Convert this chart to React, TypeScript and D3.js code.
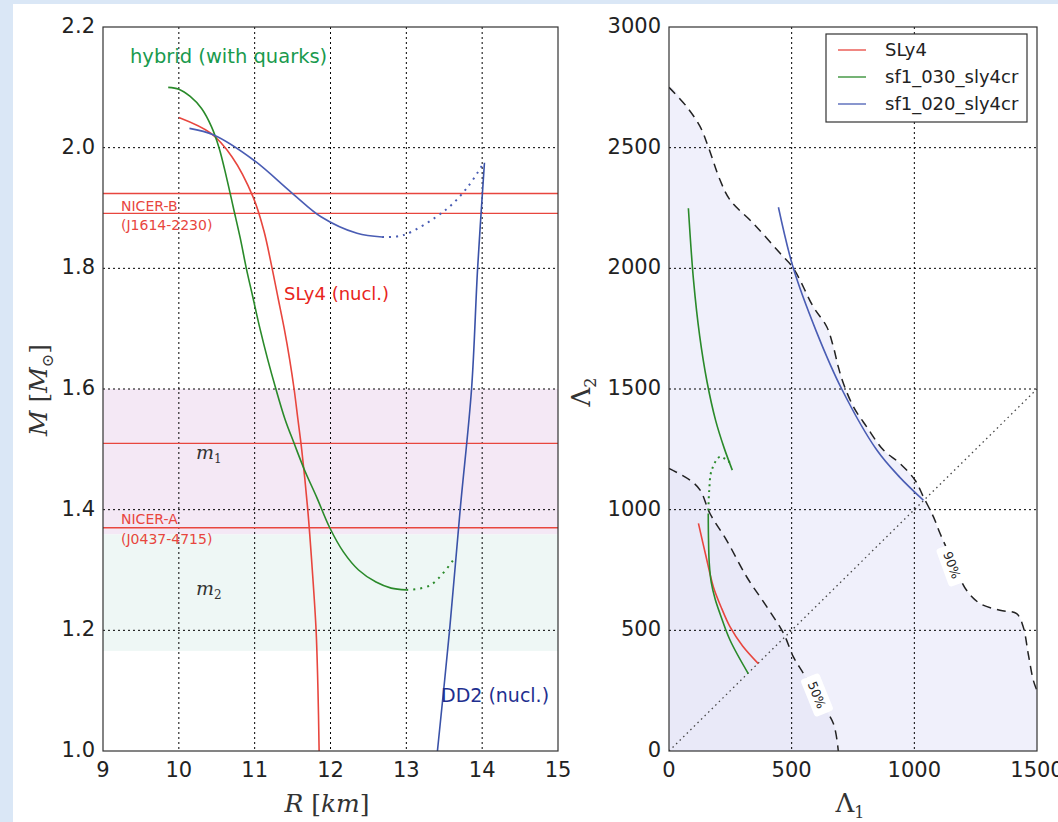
import React from "react";
import * as d3 from "d3";

// ---- left panel: mass-radius curves, [R km, M Msun]
const sly4MR = [[10.0, 2.05], [10.42, 2.024], [10.7, 1.985], [10.98, 1.918], [11.12, 1.863], [11.23, 1.8], [11.31, 1.75], [11.39, 1.7], [11.46, 1.65], [11.52, 1.6], [11.57, 1.55], [11.62, 1.5], [11.7, 1.4], [11.76, 1.3], [11.81, 1.2], [11.835, 1.1], [11.85, 1.0]];
const hybridMR = [[9.86, 2.1], [10.0, 2.097], [10.15, 2.085], [10.3, 2.065], [10.43, 2.035], [10.53, 2.0], [10.63, 1.95], [10.72, 1.9], [10.81, 1.85], [10.89, 1.8], [10.98, 1.75], [11.07, 1.7], [11.17, 1.65], [11.28, 1.6], [11.4, 1.55], [11.52, 1.51], [11.66, 1.465], [11.82, 1.42], [11.99, 1.37], [12.17, 1.33], [12.37, 1.3], [12.6, 1.28], [12.8, 1.27], [13.0, 1.267]];
const hybridMRdots = [[13.0, 1.267], [13.32, 1.275], [13.65, 1.322]];
const sf020MR = [[10.14, 2.032], [10.46, 2.021], [10.98, 1.98], [11.5, 1.924], [11.88, 1.885], [12.35, 1.858], [12.68, 1.852]];
const sf020MRdots = [[12.68, 1.852], [12.96, 1.855], [13.52, 1.897], [13.81, 1.935], [14.02, 1.975]];
const dd2MR = [[14.03, 1.975], [13.94, 1.8], [13.86, 1.6], [13.71, 1.4], [13.57, 1.2], [13.41, 1.0]];
const nicerLines = [1.924, 1.891, 1.51, 1.37];
const m1Band = [1.359, 1.6];
const m2Band = [1.166, 1.359];
const rTicks = [9, 10, 11, 12, 13, 14, 15];
const mTicks = [1.0, 1.2, 1.4, 1.6, 1.8, 2.0, 2.2];

// ---- right panel: tidal deformabilities [Lambda1, Lambda2]
const sly4LL = [[120, 943], [150, 810], [181, 680], [215, 590], [249, 514], [300, 435], [364, 362]];
const sf030Upper = [[79, 2249], [100, 1950], [125, 1720], [155, 1530], [190, 1370], [225, 1255], [258, 1164]];
const sf030Dots = [[248, 1195], [208, 1219], [174, 1164], [164, 1081], [160, 984]];
const sf030Lower = [[160, 984], [161, 880], [164, 780], [172, 700], [188, 630], [208, 569], [249, 459], [323, 321]];
const sf020LL = [[446, 2253], [507, 2000], [600, 1740], [704, 1500], [847, 1247], [940, 1135], [1037, 1039]];
const cont90 = [[0, 2750], [72, 2670], [127, 2587], [160, 2504], [208, 2366], [249, 2283], [344, 2186], [453, 2062], [507, 2000], [588, 1841], [643, 1758], [670, 1675], [690, 1592], [711, 1523], [752, 1426], [806, 1343], [874, 1247], [942, 1191], [1003, 1122], [1037, 1053], [1078, 970], [1105, 901], [1150, 800], [1213, 666], [1268, 611], [1349, 583], [1417, 569], [1444, 514], [1464, 404], [1485, 293], [1500, 250]];
const cont50 = [[0, 1171], [86, 1122], [127, 1081], [167, 984], [235, 873], [317, 721], [399, 597], [467, 487], [507, 390], [548, 321], [610, 215], [670, 114], [690, 0]];
const lamTicks = [0, 500, 1000, 1500];
const lam2Ticks = [0, 500, 1000, 1500, 2000, 2500, 3000];
const legendItems = [
  { name: "SLy4", color: "#e8463e" },
  { name: "sf1_030_sly4cr", color: "#2a8a2a" },
  { name: "sf1_020_sly4cr", color: "#4a5db4" },
];

const RED = "#e8463e";
const GREEN = "#2a8a2a";
const BLUE = "#4a5db4";
const font = "'DejaVu Sans', sans-serif";
const serif = "'DejaVu Serif', 'Liberation Serif', serif";

export default function App() {
  const top = 27, bottom = 751;
  const x = d3.scaleLinear().domain([9, 15]).range([103, 558]);
  const y = d3.scaleLinear().domain([1.0, 2.2]).range([bottom, top]);
  const x2 = d3.scaleLinear().domain([0, 1500]).range([669, 1037]);
  const y2 = d3.scaleLinear().domain([0, 3000]).range([bottom, top]);

  const lineL = d3.line<number[]>().x(d => x(d[0])).y(d => y(d[1])).curve(d3.curveCatmullRom);
  const lineR = d3.line<number[]>().x(d => x2(d[0])).y(d => y2(d[1])).curve(d3.curveCatmullRom);
  const areaPts90 = [[0, 0], ...cont90, [1500, 0]];
  const areaPts50 = [[0, 0], ...cont50];
  const polyR = d3.line<number[]>().x(d => x2(d[0])).y(d => y2(d[1])).curve(d3.curveCatmullRom);

  const grid = { stroke: "#000", strokeWidth: 1, strokeDasharray: "2,3" };
  const tickSize = 21;

  return (
    <svg width={1058} height={822} style={{ position: "absolute", left: 0, top: 0 }}>
      <defs>
        <clipPath id="clipL"><rect x={103} y={top} width={455} height={bottom - top} /></clipPath>
        <clipPath id="clipR"><rect x={669} y={top} width={368} height={bottom - top} /></clipPath>
      </defs>
      <rect x={0} y={0} width={1058} height={822} fill="#dae7f6" />
      <rect x={13} y={4} width={1045} height={818} fill="#fff" />

      {/* ---------- left panel ---------- */}
      <g clipPath="url(#clipL)">
        <rect x={103} y={y(m1Band[1])} width={455} height={y(m1Band[0]) - y(m1Band[1])} fill="#f4e8f5" />
        <rect x={103} y={y(m2Band[1])} width={455} height={y(m2Band[0]) - y(m2Band[1])} fill="#eef7f5" />
        {rTicks.slice(1, -1).map(t => <line key={t} x1={x(t)} x2={x(t)} y1={top} y2={bottom} {...grid} />)}
        {mTicks.slice(1, -1).map(t => <line key={t} x1={103} x2={558} y1={y(t)} y2={y(t)} {...grid} />)}
        {nicerLines.map(v => <line key={v} x1={103} x2={558} y1={y(v)} y2={y(v)} stroke={RED} strokeWidth={1.3} />)}
        <path d={lineL(sly4MR)!} fill="none" stroke={RED} strokeWidth={1.6} />
        <path d={lineL(hybridMR)!} fill="none" stroke={GREEN} strokeWidth={1.6} />
        <path d={lineL(hybridMRdots)!} fill="none" stroke={GREEN} strokeWidth={2} strokeDasharray="2,5" />
        <path d={lineL(sf020MR)!} fill="none" stroke={BLUE} strokeWidth={1.6} />
        <path d={lineL(sf020MRdots)!} fill="none" stroke={BLUE} strokeWidth={2} strokeDasharray="2,5" />
        <path d={lineL(dd2MR)!} fill="none" stroke="#3a52a8" strokeWidth={1.6} />
      </g>
      <rect x={103} y={top} width={455} height={bottom - top} fill="none" stroke="#333" strokeWidth={1.2} />
      {rTicks.map(t => (
        <text key={t} x={x(t)} y={777} textAnchor="middle" fontFamily={font} fontSize={tickSize} fill="#222">{t}</text>
      ))}
      {mTicks.map(t => (
        <text key={t} x={95} y={y(t) + 6} textAnchor="end" fontFamily={font} fontSize={tickSize} fill="#222">{t.toFixed(1)}</text>
      ))}
      <text x={121} y={211} fontFamily={font} fontSize={14} fill={RED}>NICER-B</text>
      <text x={121} y={230} fontFamily={font} fontSize={14} fill={RED}>(J1614-2230)</text>
      <text x={121} y={524} fontFamily={font} fontSize={14} fill={RED}>NICER-A</text>
      <text x={121} y={544} fontFamily={font} fontSize={14} fill={RED}>(J0437-4715)</text>
      <text x={196} y={459} fontFamily={serif} fontStyle="italic" fontSize={19} fill="#333">m<tspan fontSize={12} dy={4} fontStyle="normal">1</tspan></text>
      <text x={196} y={595} fontFamily={serif} fontStyle="italic" fontSize={19} fill="#333">m<tspan fontSize={12} dy={4} fontStyle="normal">2</tspan></text>
      <text x={130} y={63} fontFamily={font} fontSize={19.5} fill="#1a9a4e">hybrid (with quarks)</text>
      <text x={284} y={300} fontFamily={font} fontSize={18} fill="#e8251c">SLy4 (nucl.)</text>
      <text x={441} y={702} fontFamily={font} fontSize={19} fill="#1f2f8f">DD2 (nucl.)</text>
      <text x={327} y={812} textAnchor="middle" fontFamily={serif} fontSize={25} fill="#333">
        <tspan fontStyle="italic">R</tspan> [<tspan fontStyle="italic">km</tspan>]
      </text>
      <text transform="translate(47,390) rotate(-90)" textAnchor="middle" fontFamily={serif} fontSize={25} fill="#333">
        <tspan fontStyle="italic">M</tspan> [<tspan fontStyle="italic">M</tspan><tspan fontSize={16} dy={6}>⊙</tspan><tspan dy={-6}>]</tspan>
      </text>

      {/* ---------- right panel ---------- */}
      <g clipPath="url(#clipR)">
        <path d={polyR(areaPts90)!} fill="#f0f0fb" />
        <path d={polyR(areaPts50)!} fill="#e9e9f8" />
        {lamTicks.slice(1, -1).map(t => <line key={t} x1={x2(t)} x2={x2(t)} y1={top} y2={bottom} {...grid} />)}
        {lam2Ticks.slice(1, -1).map(t => <line key={t} x1={669} x2={1037} y1={y2(t)} y2={y2(t)} {...grid} />)}
        <line x1={x2(0)} y1={y2(0)} x2={x2(1500)} y2={y2(1500)} stroke="#444" strokeWidth={1.3} strokeDasharray="1.5,3.5" />
        <path d={lineR(cont90)!} fill="none" stroke="#222" strokeWidth={1.5} strokeDasharray="9,6" />
        <path d={lineR(cont50)!} fill="none" stroke="#222" strokeWidth={1.5} strokeDasharray="9,6" />
        <path d={lineR(sly4LL)!} fill="none" stroke={RED} strokeWidth={1.6} />
        <path d={lineR(sf030Upper)!} fill="none" stroke={GREEN} strokeWidth={1.6} />
        <path d={lineR(sf030Dots)!} fill="none" stroke={GREEN} strokeWidth={2} strokeDasharray="2,4" />
        <path d={lineR(sf030Lower)!} fill="none" stroke={GREEN} strokeWidth={1.6} />
        <path d={lineR(sf020LL)!} fill="none" stroke={BLUE} strokeWidth={1.6} />
        <g transform="translate(952,565) rotate(70)">
          <rect x={-20} y={-10} width={40} height={20} rx={3} fill="#fff" />
          <text x={0} y={4.5} textAnchor="middle" fontFamily={font} fontSize={12.5} fill="#222">90%</text>
        </g>
        <g transform="translate(817,695) rotate(68)">
          <rect x={-20} y={-10} width={40} height={20} rx={3} fill="#fff" />
          <text x={0} y={4.5} textAnchor="middle" fontFamily={font} fontSize={12.5} fill="#222">50%</text>
        </g>
      </g>
      <rect x={669} y={top} width={368} height={bottom - top} fill="none" stroke="#333" strokeWidth={1.2} />
      {lamTicks.map(t => (
        <text key={t} x={x2(t)} y={777} textAnchor="middle" fontFamily={font} fontSize={tickSize} fill="#222">{t}</text>
      ))}
      {lam2Ticks.map(t => (
        <text key={t} x={661} y={y2(t) + 6} textAnchor="end" fontFamily={font} fontSize={tickSize} fill="#222">{t}</text>
      ))}
      <text x={850} y={812} textAnchor="middle" fontFamily={serif} fontSize={26} fill="#333">
        Λ<tspan fontSize={16} dy={6}>1</tspan>
      </text>
      <text transform="translate(590,392) rotate(-90)" textAnchor="middle" fontFamily={serif} fontSize={26} fill="#333">
        Λ<tspan fontSize={16} dy={6}>2</tspan>
      </text>

      {/* legend */}
      <rect x={826} y={34} width={201} height={88} fill="#fff" stroke="#333" strokeWidth={1.2} />
      {legendItems.map((it, i) => (
        <g key={it.name}>
          <line x1={838} x2={866} y1={50 + i * 27} y2={50 + i * 27} stroke={it.color} strokeWidth={1.3} />
          <text x={885} y={56 + i * 27} fontFamily={font} fontSize={18} fill="#222">{it.name}</text>
        </g>
      ))}
    </svg>
  );
}
